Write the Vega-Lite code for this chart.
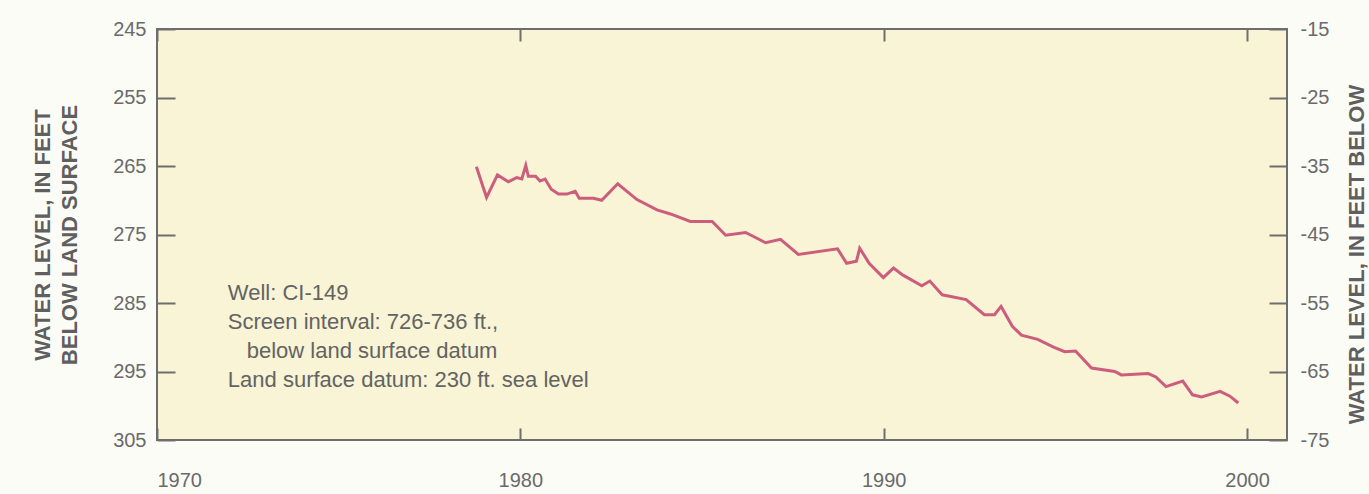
{
  "$schema": "https://vega.github.io/schema/vega-lite/v6.json",
  "width": 1130,
  "height": 411,
  "autosize": {"type": "none"},
  "padding": {"left": 157, "top": 29, "right": 82, "bottom": 54},
  "background": "#fcfcf6",
  "config": {
    "font": "Liberation Sans",
    "view": {"fill": "#f8f4d5", "stroke": "#6e6e6e", "strokeWidth": 2},
    "axis": {
      "domain": false,
      "grid": false,
      "labelFont": "Liberation Sans",
      "labelFontSize": 20,
      "labelColor": "#6a6a6a",
      "tickColor": "#6e6e6e",
      "tickWidth": 2,
      "titleFont": "Liberation Sans",
      "titleFontSize": 22,
      "titleFontWeight": "bold",
      "titleColor": "#5f5f5f"
    }
  },
  "datasets": {
    "well": [
      {"year": 1978.79, "level": 265.1},
      {"year": 1979.07, "level": 269.6},
      {"year": 1979.37, "level": 266.3},
      {"year": 1979.67, "level": 267.3},
      {"year": 1979.90, "level": 266.7},
      {"year": 1980.04, "level": 266.9},
      {"year": 1980.15, "level": 264.9},
      {"year": 1980.22, "level": 266.5},
      {"year": 1980.42, "level": 266.5},
      {"year": 1980.54, "level": 267.2},
      {"year": 1980.68, "level": 266.9},
      {"year": 1980.85, "level": 268.4},
      {"year": 1981.05, "level": 269.1},
      {"year": 1981.28, "level": 269.1},
      {"year": 1981.51, "level": 268.7},
      {"year": 1981.62, "level": 269.7},
      {"year": 1982.01, "level": 269.7},
      {"year": 1982.24, "level": 270.0},
      {"year": 1982.68, "level": 267.6},
      {"year": 1983.21, "level": 269.9},
      {"year": 1983.76, "level": 271.4},
      {"year": 1984.13, "level": 272.0},
      {"year": 1984.68, "level": 273.1},
      {"year": 1985.28, "level": 273.1},
      {"year": 1985.65, "level": 275.1},
      {"year": 1986.20, "level": 274.7},
      {"year": 1986.75, "level": 276.2},
      {"year": 1987.16, "level": 275.7},
      {"year": 1987.65, "level": 277.9},
      {"year": 1988.73, "level": 277.1},
      {"year": 1988.98, "level": 279.2},
      {"year": 1989.25, "level": 278.9},
      {"year": 1989.34, "level": 277.0},
      {"year": 1989.60, "level": 279.2},
      {"year": 1989.99, "level": 281.3},
      {"year": 1990.27, "level": 279.9},
      {"year": 1990.52, "level": 280.9},
      {"year": 1991.05, "level": 282.5},
      {"year": 1991.27, "level": 281.8},
      {"year": 1991.61, "level": 283.8},
      {"year": 1992.27, "level": 284.5},
      {"year": 1992.77, "level": 286.7},
      {"year": 1993.05, "level": 286.7},
      {"year": 1993.23, "level": 285.5},
      {"year": 1993.54, "level": 288.4},
      {"year": 1993.79, "level": 289.7},
      {"year": 1994.24, "level": 290.3},
      {"year": 1994.66, "level": 291.4},
      {"year": 1994.98, "level": 292.1},
      {"year": 1995.28, "level": 292.0},
      {"year": 1995.72, "level": 294.5},
      {"year": 1996.36, "level": 295.0},
      {"year": 1996.54, "level": 295.5},
      {"year": 1997.28, "level": 295.3},
      {"year": 1997.49, "level": 295.8},
      {"year": 1997.77, "level": 297.2},
      {"year": 1998.23, "level": 296.4},
      {"year": 1998.50, "level": 298.4},
      {"year": 1998.75, "level": 298.7},
      {"year": 1999.26, "level": 297.9},
      {"year": 1999.53, "level": 298.6},
      {"year": 1999.76, "level": 299.6}
    ],
    "note": [
      {"year": 1971.95, "level": 284.6, "label": "Well: CI-149"},
      {"year": 1971.95, "level": 288.83, "label": "Screen interval: 726-736 ft.,"},
      {"year": 1972.47, "level": 293.06, "label": "below land surface datum"},
      {"year": 1971.95, "level": 297.29, "label": "Land surface datum: 230 ft. sea level"}
    ]
  },
  "layer": [
    {
      "data": {"name": "well"},
      "mark": {"type": "line", "color": "#cd5d7c", "strokeWidth": 3},
      "encoding": {
        "x": {
          "field": "year",
          "type": "quantitative",
          "scale": {"domain": [1970, 2001.1], "nice": false, "zero": false},
          "axis": {
            "orient": "bottom",
            "values": [1970, 1980, 1990, 2000],
            "format": "d",
            "title": null,
            "tickSize": -12,
            "labelPadding": 42
          }
        },
        "y": {
          "field": "level",
          "type": "quantitative",
          "scale": {"domain": [245, 305], "reverse": true, "nice": false, "zero": false},
          "axis": {
            "orient": "left",
            "values": [245, 255, 265, 275, 285, 295, 305],
            "format": "d",
            "tickSize": -18,
            "labelPadding": 29,
            "title": ["WATER LEVEL, IN FEET", "BELOW LAND SURFACE"],
            "titleLineHeight": 27,
            "titlePadding": 31
          }
        }
      }
    },
    {
      "data": {"name": "note"},
      "mark": {
        "type": "text",
        "align": "left",
        "baseline": "alphabetic",
        "fontSize": 22,
        "color": "#636363",
        "font": "Liberation Sans"
      },
      "encoding": {
        "text": {"field": "label"},
        "x": {
          "field": "year",
          "type": "quantitative",
          "axis": {
            "orient": "top",
            "values": [1970, 1980, 1990, 2000],
            "labels": false,
            "tickSize": -12,
            "title": null
          }
        },
        "y": {
          "field": "level",
          "type": "quantitative",
          "axis": {
            "orient": "right",
            "values": [245, 255, 265, 275, 285, 295, 305],
            "labelExpr": "'-' + (datum.value - 230)",
            "tickSize": -18,
            "labelPadding": 31,
            "title": "WATER LEVEL, IN FEET BELOW",
            "titleAngle": 270,
            "titleBaseline": "top",
            "titlePadding": 18,
            "titleY": 225
          }
        }
      }
    }
  ],
  "resolve": {"axis": {"x": "independent", "y": "independent"}}
}
